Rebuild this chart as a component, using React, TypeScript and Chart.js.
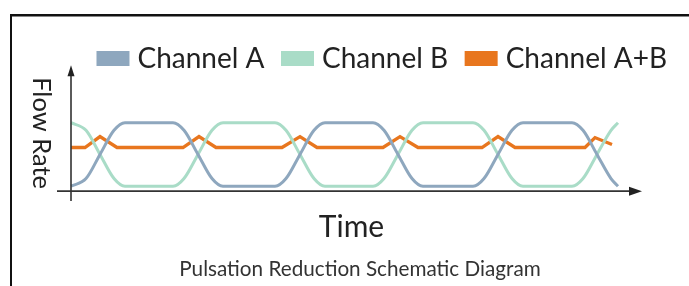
import React, { useEffect, useRef } from 'react';
import { Chart, registerables } from 'chart.js';

Chart.register(...registerables);

const FONT = 'Lato, "Noto Sans", sans-serif';

// Series names and texts
const seriesNames = ['Channel A', 'Channel B', 'Channel A+B'];
const xAxisTitle = 'Time';
const yAxisTitle = 'Flow Rate';
const chartTitle = 'Pulsation Reduction Schematic Diagram';

// Channel A (time units, flow units)
const timeA = [0, 1.5, 2.9, 4.3, 5.4, 10.2, 11.3, 12.7, 14.1, 15.2, 20.4, 21.5, 22.9, 24.3, 25.4, 30.2, 31.3, 32.7, 34.1, 35.2, 40.2, 41.3, 42.7, 44.1, 45.2, 50.1, 51.2, 52.6, 54.0, 54.7];
const flowA = [0.5, 1.27, 3.7, 6.13, 6.9, 6.9, 6.13, 3.7, 1.27, 0.5, 0.5, 1.27, 3.7, 6.13, 6.9, 6.9, 6.13, 3.7, 1.27, 0.5, 0.5, 1.27, 3.7, 6.13, 6.9, 6.9, 6.13, 3.7, 1.27, 0.5];

// Channel B
const timeB = [0, 1.5, 2.9, 4.3, 5.4, 10.2, 11.3, 12.7, 14.1, 15.2, 20.4, 21.5, 22.9, 24.3, 25.4, 30.2, 31.3, 32.7, 34.1, 35.2, 40.2, 41.3, 42.7, 44.1, 45.2, 50.1, 51.2, 52.6, 54.0, 54.7];
const flowB = [6.9, 6.13, 3.7, 1.27, 0.5, 0.5, 1.27, 3.7, 6.13, 6.9, 6.9, 6.13, 3.7, 1.27, 0.5, 0.5, 1.27, 3.7, 6.13, 6.9, 6.9, 6.13, 3.7, 1.27, 0.5, 0.5, 1.27, 3.7, 6.13, 6.9];

// Channel A+B
const timeAB = [0, 1.4, 2.9, 4.6, 11.2, 12.8, 14.5, 21.1, 22.9, 24.6, 31.2, 32.9, 34.7, 41.1, 42.7, 44.4, 51.4, 52.4, 54.1];
const flowAB = [4.4, 4.4, 5.5, 4.4, 4.4, 5.5, 4.4, 4.4, 5.5, 4.4, 4.4, 5.5, 4.4, 4.4, 5.5, 4.4, 4.4, 5.4, 4.7];

const colorA = '#8ea7be';
const colorB = '#a9dcc7';
const colorAB = '#e8761e';

const toPoints = (xs: number[], ys: number[]) => xs.map((x, i) => ({ x, y: ys[i] }));

const framePlugin = {
  id: 'frame',
  beforeDraw(chart: any) {
    const { ctx, width, height } = chart;
    ctx.save();
    ctx.fillStyle = '#ffffff';
    ctx.fillRect(0, 0, width, height);
    ctx.fillStyle = '#111111';
    ctx.fillRect(10, 14, width - 10, 2.5);
    ctx.fillRect(10, 14, 2, height - 14);
    ctx.restore();
  },
};

const axesPlugin = {
  id: 'arrowAxes',
  afterDatasetsDraw(chart: any) {
    const { ctx } = chart;
    const xs = chart.scales.x;
    const ys = chart.scales.y;
    const ox = xs.getPixelForValue(0);
    const oy = ys.getPixelForValue(0);
    const xStart = xs.getPixelForValue(-1.4);
    const xEnd = xs.getPixelForValue(57.1);
    const yTop = ys.getPixelForValue(12.7);
    const yBottom = ys.getPixelForValue(-1.0);
    ctx.save();
    ctx.strokeStyle = '#333333';
    ctx.fillStyle = '#222222';
    ctx.lineWidth = 1.6;
    ctx.beginPath();
    ctx.moveTo(xStart, oy);
    ctx.lineTo(xEnd - 8, oy);
    ctx.moveTo(ox, yBottom);
    ctx.lineTo(ox, yTop + 8);
    ctx.stroke();
    ctx.beginPath();
    ctx.moveTo(xEnd, oy);
    ctx.lineTo(xEnd - 13, oy - 4.5);
    ctx.lineTo(xEnd - 13, oy + 4.5);
    ctx.closePath();
    ctx.fill();
    ctx.beginPath();
    ctx.moveTo(ox, yTop);
    ctx.lineTo(ox - 3.5, yTop + 11);
    ctx.lineTo(ox + 3.5, yTop + 11);
    ctx.closePath();
    ctx.fill();
    // rotated y-axis title (reads top to bottom)
    ctx.translate(ox - 30, (yTop + yBottom) / 2);
    ctx.rotate(Math.PI / 2);
    ctx.font = `25.5px ${FONT}`;
    ctx.fillStyle = '#222222';
    ctx.textAlign = 'center';
    ctx.textBaseline = 'middle';
    ctx.fillText(yAxisTitle, 0, 0);
    ctx.restore();
  },
};

export default function App() {
  const ref = useRef<HTMLCanvasElement | null>(null);

  useEffect(() => {
    if (!ref.current) return;
    const chart = new Chart(ref.current, {
      type: 'line',
      data: {
        datasets: [
          {
            label: seriesNames[0],
            data: toPoints(timeA, flowA),
            borderColor: colorA,
            backgroundColor: colorA,
            borderWidth: 3,
            pointRadius: 0,
            cubicInterpolationMode: 'monotone',
            clip: false,
          },
          {
            label: seriesNames[1],
            data: toPoints(timeB, flowB),
            borderColor: colorB,
            backgroundColor: colorB,
            borderWidth: 3,
            pointRadius: 0,
            cubicInterpolationMode: 'monotone',
            clip: false,
          },
          {
            label: seriesNames[2],
            data: toPoints(timeAB, flowAB),
            borderColor: colorAB,
            backgroundColor: colorAB,
            borderWidth: 3.3,
            pointRadius: 0,
            tension: 0,
            clip: false,
          },
        ],
      },
      options: {
        responsive: false,
        animation: false,
        layout: { padding: { left: 30.5, right: -0.5, top: 22, bottom: 0 } },
        scales: {
          x: {
            type: 'linear',
            min: -4.05,
            max: 60.15,
            display: true,
            ticks: { display: false },
            grid: { display: false, drawTicks: false },
            border: { display: false },
            title: {
              display: true,
              text: xAxisTitle,
              color: '#222222',
              font: { family: FONT, size: 30 },
              padding: { top: 18.5, bottom: 11.5 },
            },
          },
          y: {
            type: 'linear',
            position: 'right',
            min: 0,
            max: 10.95,
            display: true,
            ticks: { display: false },
            grid: { display: false, drawTicks: false },
            border: { display: false },
            afterFit: (s: any) => {
              s.width = 17;
            },
          },
        },
        plugins: {
          legend: {
            display: true,
            position: 'top',
            align: 'end',
            labels: {
              boxWidth: 21,
              boxHeight: 3,
              padding: 22.5,
              color: '#222222',
              font: { family: FONT, size: 28 },
              generateLabels: (c: any) =>
                Chart.defaults.plugins.legend.labels
                  .generateLabels(c)
                  .map((l: any) => ({ ...l, lineWidth: 12, lineJoin: 'miter', lineCap: 'butt' })),
            },
          },
          title: {
            display: true,
            position: 'bottom',
            text: chartTitle,
            color: '#333333',
            font: { family: FONT, size: 20.7, weight: 'normal' },
            padding: { top: 0, bottom: 4 },
          },
          tooltip: { enabled: false },
        },
      },
      plugins: [framePlugin, axesPlugin],
    });
    return () => chart.destroy();
  }, []);

  return (
    <div style={{ position: 'absolute', left: 0, top: 0, width: 689, height: 286 }}>
      <canvas ref={ref} width={689} height={286} style={{ display: 'block' }} />
    </div>
  );
}
